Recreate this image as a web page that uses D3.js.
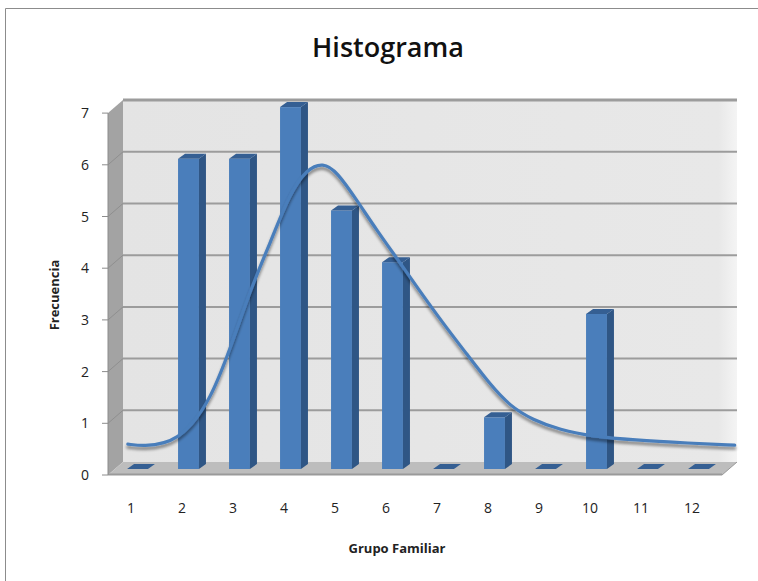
<!DOCTYPE html>
<html>
<head>
<meta charset="utf-8">
<script src="https://cdn.jsdelivr.net/npm/d3@7"></script>
<style>
  html, body { margin: 0; padding: 0; background: #ffffff; }
  svg { display: block; }
</style>
</head>
<body>
<svg id="chart" width="758" height="581"></svg>
<script>
// ---- data ----
const categories = ["1","2","3","4","5","6","7","8","9","10","11","12"];
const frequencies = [0, 6, 6, 7, 5, 4, 0, 1, 0, 3, 0, 0];
const yTicks = [0, 1, 2, 3, 4, 5, 6, 7];
// fitted curve (category position, frequency)
const curveX = [0.81, 1.15, 1.54, 1.79, 2.03, 2.42, 2.81, 3.21, 3.60, 3.99, 4.32, 4.64, 4.91, 5.30, 5.69, 6.09, 6.48, 6.99, 7.46, 7.91, 8.30, 8.75, 9.28, 9.93, 10.72, 11.83, 12.71];
const curveY = [0.48, 0.44, 0.50, 0.62, 0.81, 1.33, 2.30, 3.46, 4.37, 5.34, 5.80, 5.93, 5.75, 5.20, 4.62, 4.07, 3.52, 2.82, 2.22, 1.64, 1.22, 0.95, 0.76, 0.63, 0.56, 0.50, 0.46];
const title = "Histograma";
const xTitle = "Grupo Familiar";
const yTitle = "Frecuencia";

const svg = d3.select("#chart");
const font = "'Open Sans', 'Noto Sans', sans-serif";

// depth offsets
const wallDx = 15, wallDy = -13;
const barDx = 7, barDy = -5;

// scales
const x = d3.scaleBand().domain(categories).range([112, 724]).paddingInner(0.59).paddingOuter(0.295);
const bw = x.bandwidth();
const yBar = d3.scaleLinear().domain([0, 7]).range([469, 469 - 7 * 51.7]);
const yFront = d3.scaleLinear().domain([0, 7]).range([475, 475 - 7 * 51.7]);
const yBack = d3.scaleLinear().domain([0, 7]).range([462, 462 - 7 * 51.7]);
const xc = d3.scaleLinear().domain([1, 12]).range([x("1") + bw / 2, x("12") + bw / 2]);

const frontLeft = 108, backLeft = frontLeft + wallDx, backRight = 737, frontRight = backRight - wallDx;

// outer frame
svg.append("path").attr("d", `M5.5,581 L5.5,8.5 L758,8.5`).attr("fill", "none").attr("stroke", "#8c8c8c").attr("stroke-width", 1);

// defs
const defs = svg.append("defs");
const wallGrad = defs.append("linearGradient").attr("id", "wallGrad").attr("x1", 0).attr("x2", 1).attr("y1", 0).attr("y2", 0);
wallGrad.append("stop").attr("offset", "0%").attr("stop-color", "#e4e4e4");
wallGrad.append("stop").attr("offset", "97%").attr("stop-color", "#e8e8e8");
wallGrad.append("stop").attr("offset", "100%").attr("stop-color", "#f4f4f4");
const sh = defs.append("filter").attr("id", "shadow").attr("x", "-10%").attr("y", "-10%").attr("width", "120%").attr("height", "130%");
sh.append("feGaussianBlur").attr("in", "SourceAlpha").attr("stdDeviation", 1.6).attr("result", "b");
sh.append("feOffset").attr("in", "b").attr("dx", 0).attr("dy", 2.5).attr("result", "o");
sh.append("feComponentTransfer").attr("in", "o").attr("result", "o2").append("feFuncA").attr("type", "linear").attr("slope", 0.45);
const m = sh.append("feMerge");
m.append("feMergeNode").attr("in", "o2");
m.append("feMergeNode").attr("in", "SourceGraphic");

// back wall
svg.append("rect").attr("x", backLeft).attr("y", yBack(7)).attr("width", backRight - backLeft).attr("height", yBack(0) - yBack(7)).attr("fill", "url(#wallGrad)");
// gridlines
svg.append("g").selectAll("line").data(yTicks.filter(d => d > 0)).join("line")
  .attr("x1", backLeft).attr("x2", backRight)
  .attr("y1", d => yBack(d)).attr("y2", d => yBack(d))
  .attr("stroke", "#9c9c9c").attr("stroke-width", d => d === 7 ? 3 : 2);

// side wall
svg.append("path")
  .attr("d", `M${frontLeft},${yFront(7)} L${backLeft},${yBack(7)} L${backLeft},${yBack(0)} L${frontLeft},${yFront(0)} Z`)
  .attr("fill", "#a3a3a3");
svg.append("g").selectAll("line").data(yTicks.filter(d => d > 0 && d < 7)).join("line")
  .attr("x1", frontLeft).attr("x2", backLeft)
  .attr("y1", d => yFront(d)).attr("y2", d => yBack(d))
  .attr("stroke", "#8f8f8f").attr("stroke-width", 1);

// floor
svg.append("path")
  .attr("d", `M${frontLeft},${yFront(0)} L${backLeft},${yBack(0)} L${backRight},${yBack(0)} L${frontRight},${yFront(0)} Z`)
  .attr("fill", "#bdbdbd");
svg.append("line").attr("x1", frontLeft).attr("x2", frontRight).attr("y1", yFront(0) - 0.5).attr("y2", yFront(0) - 0.5)
  .attr("stroke", "#9a9a9a").attr("stroke-width", 2);
svg.append("line").attr("x1", frontRight).attr("x2", backRight).attr("y1", yFront(0)).attr("y2", yBack(0))
  .attr("stroke", "#9a9a9a").attr("stroke-width", 1);

// y axis ticks
svg.append("line").attr("x1", frontLeft).attr("x2", frontLeft).attr("y1", yFront(0)).attr("y2", yFront(7)).attr("stroke", "#8c8c8c");
svg.append("g").selectAll("line").data(yTicks).join("line")
  .attr("x1", frontLeft - 6).attr("x2", frontLeft)
  .attr("y1", d => yFront(d)).attr("y2", d => yFront(d))
  .attr("stroke", "#8c8c8c").attr("stroke-width", 1);
svg.append("g").selectAll("text").data(yTicks).join("text")
  .attr("x", 89).attr("y", d => yFront(d) + 5)
  .attr("text-anchor", "end")
  .attr("font-family", font).attr("font-size", 14).attr("fill", "#222")
  .text(d => d);

// bars
const bars = svg.append("g");
categories.forEach((c, i) => {
  const v = frequencies[i];
  const x0 = x(c), x1 = x0 + bw;
  const yt = yBar(v), yb = yBar(0);
  if (v > 0) {
    bars.append("rect").attr("x", x0).attr("y", yt).attr("width", bw).attr("height", yb - yt).attr("fill", "#4a7ebb");
    bars.append("path")
      .attr("d", `M${x1},${yt} L${x1 + barDx},${yt + barDy} L${x1 + barDx},${yb + barDy} L${x1},${yb} Z`)
      .attr("fill", "#2f5685");
  }
  bars.append("path")
    .attr("d", `M${x0},${yt} L${x0 + barDx},${yt + barDy} L${x1 + barDx},${yt + barDy} L${x1},${yt} Z`)
    .attr("fill", "#355f93");
});

// curve
const pts = curveX.map((cx, i) => [xc(cx), yBar(curveY[i])]);
svg.append("path")
  .attr("d", d3.line().curve(d3.curveBasis)(pts))
  .attr("fill", "none").attr("stroke", "#4a7ebb").attr("stroke-width", 3.2)
  .attr("stroke-linecap", "round")
  .attr("filter", "url(#shadow)");

// x labels
svg.append("g").selectAll("text").data(categories).join("text")
  .attr("x", d => x(d) + bw / 2 - 6.5).attr("y", 513)
  .attr("text-anchor", "middle")
  .attr("font-family", font).attr("font-size", 14).attr("fill", "#222")
  .text(d => d);

// titles
svg.append("text").attr("x", 388).attr("y", 57).attr("text-anchor", "middle")
  .attr("font-family", font).attr("font-size", 27).attr("font-weight", 600).attr("fill", "#111")
  .text(title);
svg.append("text").attr("x", 397).attr("y", 553).attr("text-anchor", "middle")
  .attr("font-family", font).attr("font-size", 13).attr("font-weight", 700).attr("fill", "#222")
  .text(xTitle);
svg.append("text").attr("transform", "translate(59,295) rotate(-90)").attr("text-anchor", "middle")
  .attr("font-family", font).attr("font-size", 13).attr("font-weight", 700).attr("fill", "#222")
  .text(yTitle);
</script>
</body>
</html>
